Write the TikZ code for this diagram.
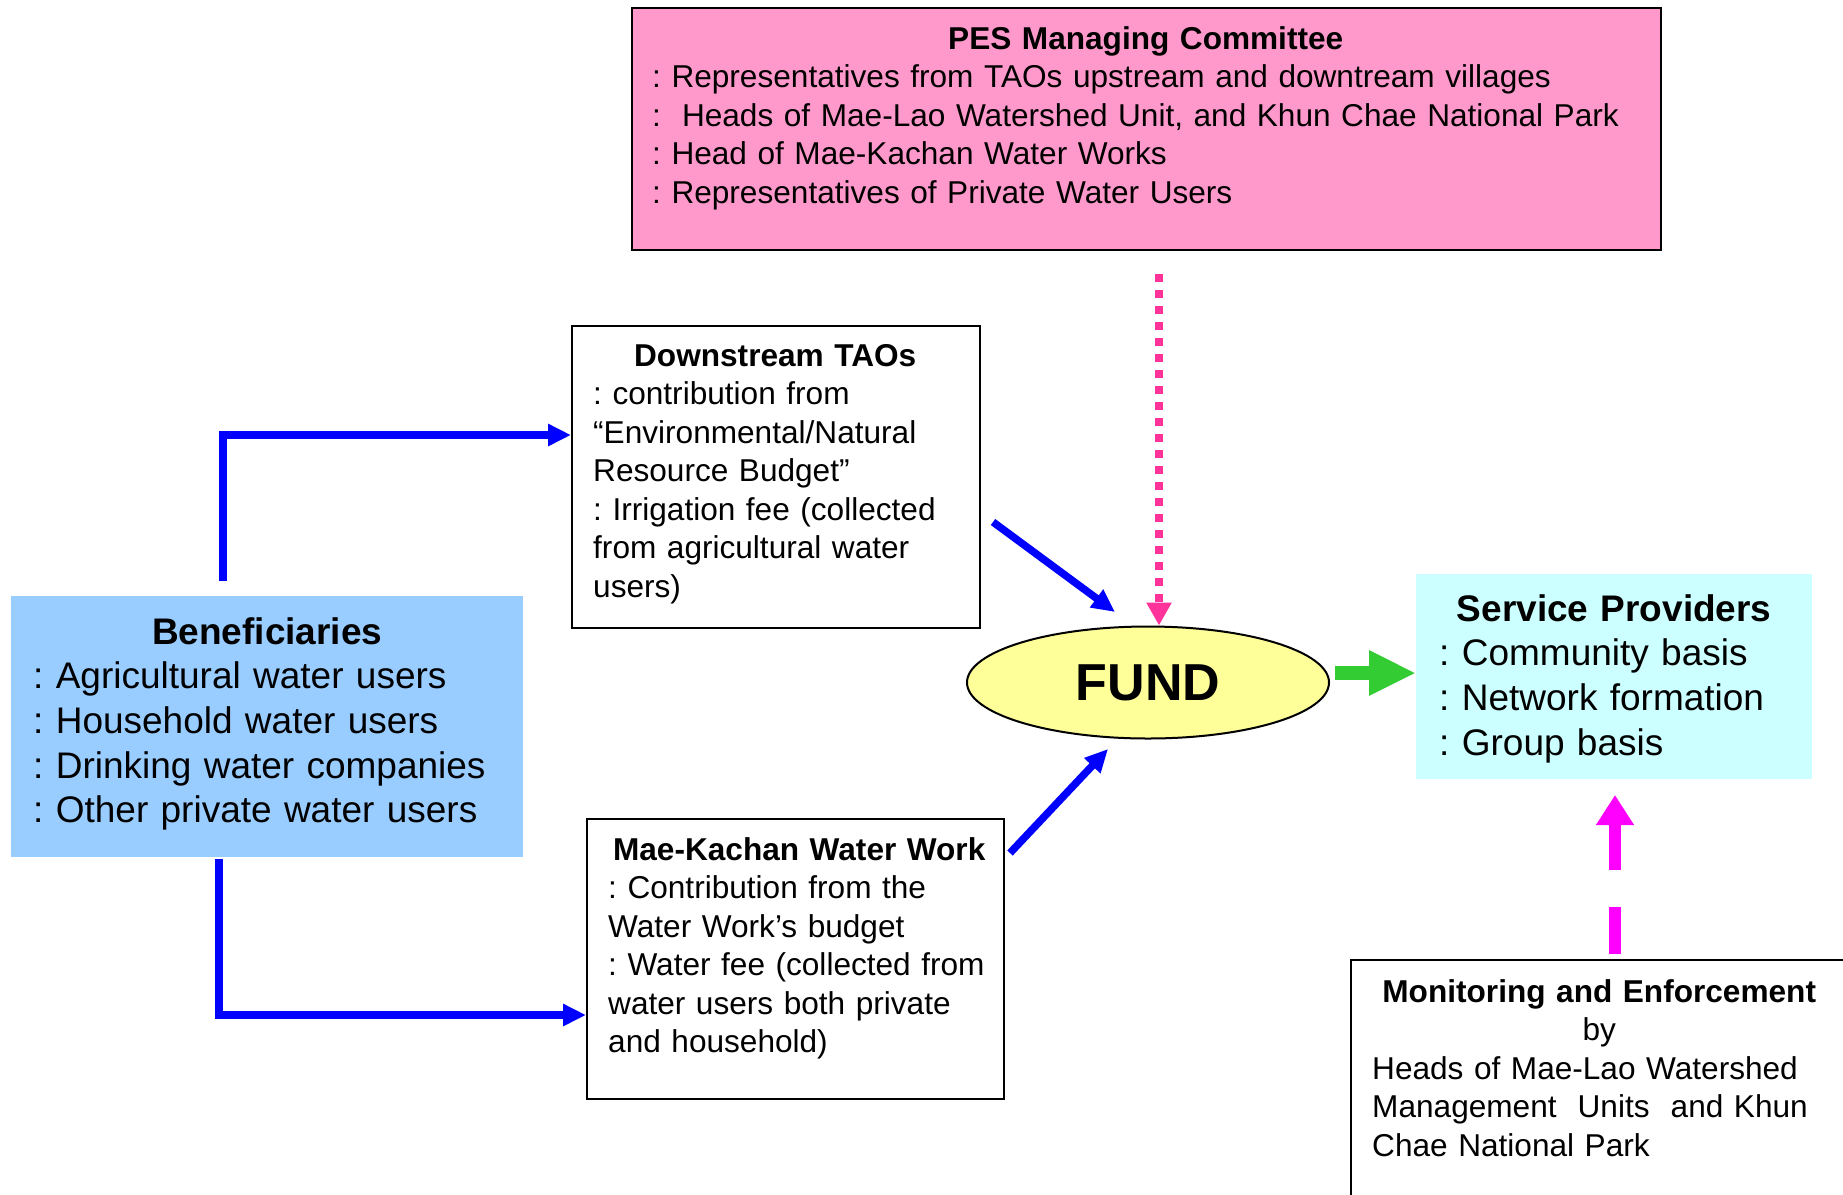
\documentclass[tikz,border=0pt]{standalone}
\usepackage{fontspec}
\setmainfont{Liberation Sans}
\usetikzlibrary{arrows.meta, shapes.geometric, calc}
\frenchspacing

\definecolor{pespink}{HTML}{FF99CC}
\definecolor{benefblue}{HTML}{99CCFF}
\definecolor{servcyan}{HTML}{CCFFFF}
\definecolor{fundyellow}{HTML}{FFFF99}
\definecolor{dotpink}{HTML}{FF3399}
\definecolor{fundgreen}{HTML}{33CC33}
\definecolor{monmagenta}{HTML}{FF00FF}

\begin{document}
\begin{tikzpicture}[
  x=1pt, y=-1pt,
  box/.style={rectangle, draw=black, line width=2pt, inner sep=0pt, anchor=north west},
  flatbox/.style={rectangle, inner sep=0pt, anchor=north west},
  txt/.style={inner sep=0pt, anchor=base west, align=left,
    font=\fontsize{31.6}{38.5}\selectfont\frenchspacing},
  bigtxt/.style={txt, font=\fontsize{37}{44.7}\selectfont\frenchspacing},
  flow/.style={draw=blue, line width=7.5pt, -{Triangle[length=23pt,width=21pt]}},
  dotflow/.style={draw=dotpink, line width=7.5pt, dash pattern=on 7.5pt off 8.5pt,
    -{Triangle[length=23pt,width=24pt]}},
  greenflow/.style={draw=fundgreen, line width=14pt, -{Triangle[length=47pt,width=42pt]}},
  monflow/.style={draw=monmagenta, line width=12pt, dash pattern=on 47pt off 37pt,
    -{Triangle[length=30pt,width=36pt]}},
  ]
  \useasboundingbox (0,0) rectangle (1843,1194);

  % boxes
  \node[box, fill=pespink, minimum width=1029pt, minimum height=242pt] (pes) at (631,7) {};
  \node[box, minimum width=408pt, minimum height=302pt] (taos) at (571,325) {};
  \node[box, minimum width=417pt, minimum height=280pt] (maek) at (586,818) {};
  \node[flatbox, fill=benefblue, minimum width=512pt, minimum height=261pt] (benef) at (11,596) {};
  \node[flatbox, fill=servcyan, minimum width=396pt, minimum height=205pt] (serv) at (1416,574) {};
  \node[box, minimum width=500pt, minimum height=300pt] (monit) at (1350,959) {};
  \node[ellipse, draw=black, line width=2pt, fill=fundyellow, inner sep=0pt,
    minimum width=362pt, minimum height=112pt,
    font=\bfseries\fontsize{52}{60}\selectfont] (fund) at (1148,682.5) {FUND};

  % texts
  \node[txt, text width=987pt] (pes-txt) at (652,49) {%
    {\centering\bfseries PES Managing Committee\par}
    : Representatives from TAOs upstream and downtream villages\\
    :\ \ Heads of Mae-Lao Watershed Unit, and Khun Chae National Park\\
    : Head of Mae-Kachan Water Works\\
    : Representatives of Private Water Users};
  \node[txt, text width=364pt] (taos-txt) at (593,366) {%
    {\centering\bfseries Downstream TAOs\par}
    : contribution from\\
    “Environmental/Natural\\
    Resource Budget”\\
    : Irrigation fee (collected\\
    from agricultural water\\
    users)};
  \node[txt, text width=382pt] (maek-txt) at (608,860) {%
    {\centering\bfseries Mae-Kachan Water Work\par}
    : Contribution from the\\
    Water Work’s budget\\
    : Water fee (collected from\\
    water users both private\\
    and household)};
  \node[bigtxt, text width=468pt] (benef-txt) at (33,644) {%
    {\centering\bfseries Beneficiaries\par}
    : Agricultural water users\\
    : Household water users\\
    : Drinking water companies\\
    : Other private water users};
  \node[bigtxt, text width=350pt] (serv-txt) at (1439,621) {%
    {\centering\bfseries Service Providers\par}
    : Community basis\\
    : Network formation\\
    : Group basis};
  \node[txt, text width=454pt] (monit-txt) at (1372,1002) {%
    {\centering\bfseries Monitoring and Enforcement\\ \mdseries by\par}
    Heads of Mae-Lao Watershed\\
    Management\ \ Units\ \ and Khun\\
    Chae National Park};

  % free ends of the connectors
  \coordinate (taos-out) at (993,522);
  \coordinate (fund-nw) at (1115,612);
  \coordinate (maek-out) at (1010,853);
  \coordinate (fund-sw) at (1108,749);
  \coordinate (pes-out) at (1159,274);
  \coordinate (fund-e) at (1335,673);
  \coordinate (monit-out) at (1615,954);
  \coordinate (serv-s) at (1615,795);

  % connectors
  \draw[flow] ([shift={(-44pt,15pt)}]benef.north) |- ([yshift=42pt]taos.west);
  \draw[flow] ([shift={(-48pt,-2pt)}]benef.south) |- ([yshift=-56pt]maek.west);
  \draw[flow] (taos-out) -- (fund-nw);
  \draw[flow] (maek-out) -- (fund-sw);
  \draw[dotflow] (pes-out) -- (pes-out |- fund.north);
  \draw[greenflow] (fund-e) -- (fund-e -| serv.west);
  \draw[monflow] (monit-out) -- (serv-s);
\end{tikzpicture}
\end{document}
